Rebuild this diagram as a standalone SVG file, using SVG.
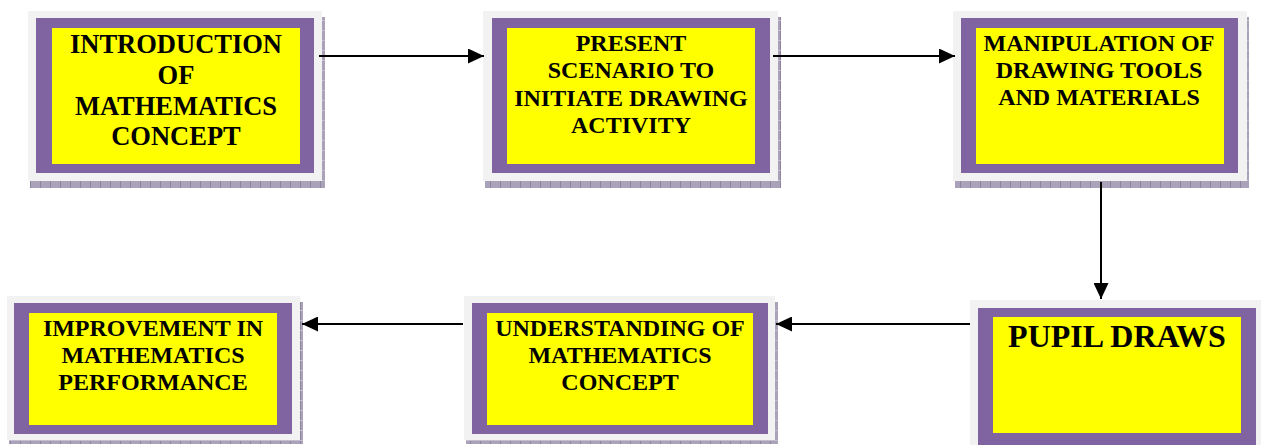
<svg xmlns="http://www.w3.org/2000/svg" width="1261" height="445" viewBox="0 0 1261 445">
<style>
.outer{fill:#f2f2f2}
.shadow{fill:url(#hatch)}
.frame{fill:#8064a2}
.inner{fill:#ffff00}
.t{font-family:"Liberation Serif","Times New Roman",serif;font-weight:bold;fill:#000;text-anchor:middle}
.conn{stroke:#000;stroke-width:2;fill:none;marker-end:url(#arr)}
</style>
<defs>
<pattern id="hatch" patternUnits="userSpaceOnUse" width="10" height="10">
<rect width="10" height="10" fill="#aaa2b8"/>
<rect x="0" y="0" width="1" height="10" fill="#8d84a0"/>
<rect x="0" y="0" width="10" height="1" fill="#c3bccd"/>
</pattern>
<marker id="arr" markerUnits="userSpaceOnUse" markerWidth="16" markerHeight="15" refX="16" refY="7.5" orient="auto">
<path d="M0,0 L16,7.5 L0,15 Z" fill="#000"/>
</marker>
</defs>
<rect width="1261" height="445" fill="#fff"/>

<g id="node1">
<rect class="shadow" x="30" y="17" width="295" height="171"/>
<rect class="outer" x="28" y="11" width="294" height="170"/>
<rect class="frame" x="36" y="18" width="278" height="155"/>
<rect class="inner" x="52" y="28" width="248" height="136"/>
<text class="t" font-size="26.5" x="176"><tspan x="176" y="53">INTRODUCTION</tspan><tspan x="176" y="84">OF</tspan><tspan x="176" y="115">MATHEMATICS</tspan><tspan x="176" y="145">CONCEPT</tspan></text>
</g>

<g id="node2">
<rect class="shadow" x="485" y="17" width="296" height="171"/>
<rect class="outer" x="483" y="11" width="295" height="170"/>
<rect class="frame" x="492" y="18" width="278" height="155"/>
<rect class="inner" x="507" y="28" width="248" height="136"/>
<text class="t" font-size="24"><tspan x="631" y="51">PRESENT</tspan><tspan x="631" y="78">SCENARIO TO</tspan><tspan x="631" y="106">INITIATE DRAWING</tspan><tspan x="631" y="133">ACTIVITY</tspan></text>
</g>

<g id="node3">
<rect class="shadow" x="955" y="17" width="294" height="171"/>
<rect class="outer" x="953" y="11" width="294" height="170"/>
<rect class="frame" x="961" y="18" width="277" height="155"/>
<rect class="inner" x="976" y="28" width="248" height="136"/>
<text class="t" font-size="24"><tspan x="1099" y="51">MANIPULATION OF</tspan><tspan x="1099" y="78">DRAWING TOOLS</tspan><tspan x="1099" y="105">AND MATERIALS</tspan></text>
</g>

<g id="node4">
<rect class="shadow" x="9" y="302" width="294" height="142"/>
<rect class="outer" x="7" y="296" width="293" height="144"/>
<rect class="frame" x="14" y="303" width="278" height="131"/>
<rect class="inner" x="29" y="313" width="248" height="112"/>
<text class="t" font-size="24"><tspan x="153" y="336">IMPROVEMENT IN</tspan><tspan x="153" y="363">MATHEMATICS</tspan><tspan x="153" y="390">PERFORMANCE</tspan></text>
</g>

<g id="node5">
<rect class="shadow" x="466" y="302" width="312" height="142"/>
<rect class="outer" x="464" y="296" width="311" height="144"/>
<rect class="frame" x="472" y="303" width="296" height="131"/>
<rect class="inner" x="487" y="313" width="266" height="112"/>
<text class="t" font-size="24"><tspan x="620" y="336">UNDERSTANDING OF</tspan><tspan x="620" y="363">MATHEMATICS</tspan><tspan x="620" y="390">CONCEPT</tspan></text>
</g>

<g id="node6">
<rect class="outer" x="970" y="300" width="291" height="145"/>
<rect class="frame" x="978" y="308" width="278" height="137"/>
<rect class="inner" x="993" y="317" width="248" height="116"/>
<text class="t" font-size="32" x="1117" y="347">PUPIL DRAWS</text>
</g>

<g id="connectors">
<line class="conn" x1="319" y1="56" x2="484" y2="56"/>
<line class="conn" x1="773" y1="56" x2="955" y2="56"/>
<line class="conn" x1="1101" y1="182" x2="1101" y2="299"/>
<line class="conn" x1="970" y1="324" x2="776" y2="324"/>
<line class="conn" x1="463" y1="324" x2="302" y2="324"/>
</g>
</svg>
